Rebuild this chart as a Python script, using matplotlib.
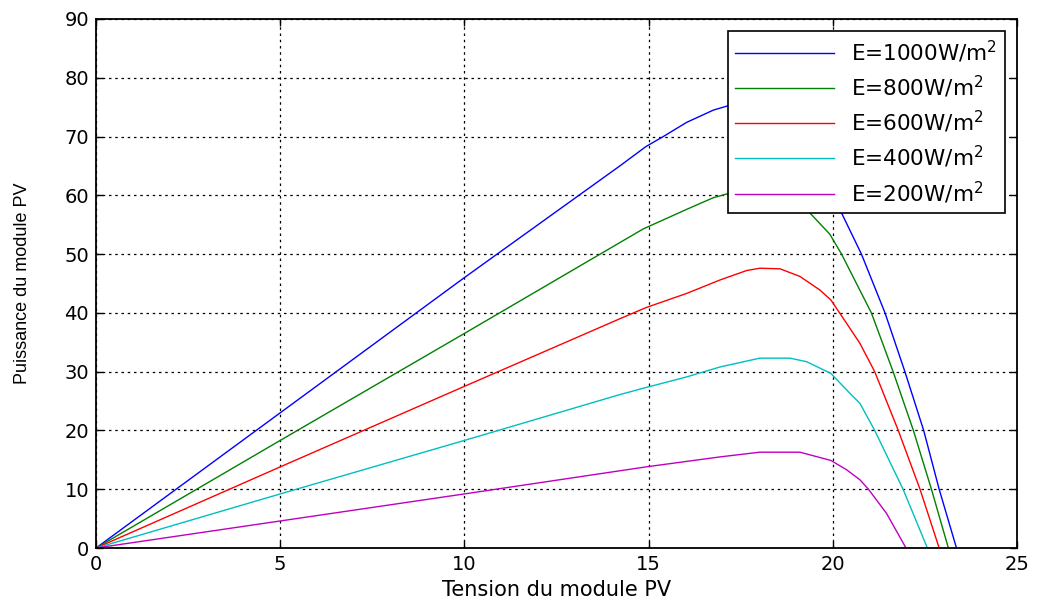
import matplotlib.pyplot as plt

plt.rcParams['font.family'] = ['DejaVu Sans']
plt.rcParams['mathtext.fontset'] = 'dejavusans'

# P-V curves of the module for several irradiance levels (V in volts, P in watts)
v_1000 = [0, 5, 10, 14.22, 14.93, 15.4, 16.03, 16.76, 17.3, 17.8, 18.3, 18.8, 19.3, 19.8, 20.24, 20.78, 21.42, 21.96, 22.47, 22.89, 23.36]
p_1000 = [0, 23, 46, 65.0, 68.3, 70.0, 72.4, 74.5, 75.5, 75.9, 75.5, 73.8, 70.5, 64.5, 57, 50, 40, 30, 20, 10, 0]

v_800 = [0, 5, 10, 14.86, 16.03, 16.76, 17.4, 18.0, 18.5, 19.0, 19.38, 19.92, 20.24, 21.05, 21.64, 22.19, 22.68, 23.14]
p_800 = [0, 18.3, 36.5, 54.3, 57.6, 59.6, 60.7, 61.0, 60.6, 59.2, 57.0, 53.4, 50, 40, 30, 20, 10, 0]

v_600 = [0, 5, 10, 14.22, 14.93, 16.03, 16.94, 17.66, 18.02, 18.57, 19.11, 19.65, 19.95, 20.38, 20.74, 21.14, 21.78, 22.37, 22.89]
p_600 = [0, 13.8, 27.5, 39.0, 40.9, 43.3, 45.6, 47.2, 47.6, 47.5, 46.2, 43.9, 42.2, 38.2, 34.8, 30, 20, 10, 0]

v_400 = [0, 5, 10, 14.22, 14.93, 16.03, 16.94, 18.02, 18.84, 19.29, 19.95, 20.47, 20.74, 21.14, 21.91, 22.57]
p_400 = [0, 9.2, 18.3, 26.1, 27.3, 29.1, 30.8, 32.3, 32.3, 31.7, 29.7, 26.3, 24.6, 20, 10, 0]

v_200 = [0, 5, 10, 14.93, 16.94, 18.02, 19.11, 19.95, 20.38, 20.74, 20.97, 21.46, 21.99]
p_200 = [0, 4.6, 9.2, 13.8, 15.5, 16.3, 16.3, 14.9, 13.3, 11.6, 10, 5.9, 0]

labels = [r'E=1000W/m$^2$', r'E=800W/m$^2$', r'E=600W/m$^2$', r'E=400W/m$^2$', r'E=200W/m$^2$']
colors = [(0, 0, 1), (0, 0.5, 0), (1, 0, 0), (0, 0.75, 0.75), (0.75, 0, 0.75)]

fig = plt.figure(figsize=(10.37, 6.05), dpi=100)
ax = fig.add_axes([0.0926, 0.0942, 0.888, 0.8744])

curves = [(v_1000, p_1000), (v_800, p_800), (v_600, p_600), (v_400, p_400), (v_200, p_200)]
for (v, p), lab, col in zip(curves, labels, colors):
    ax.plot(v, p, color=col, linewidth=1.0, label=lab)

ax.set_xlim(0, 25)
ax.set_ylim(0, 90)
ax.set_xticks(range(0, 26, 5))
ax.set_yticks(range(0, 91, 10))
ax.grid(True, color='black', linestyle=(0, (2, 3)), linewidth=0.9)
ax.tick_params(direction='in', length=5, top=True, right=True, labelsize=14, width=1, pad=5)
for s in ax.spines.values():
    s.set_linewidth(1.3)

ax.set_xlabel('Tension du module PV', fontsize=15, labelpad=4)
ax.set_ylabel('Puissance du module PV', fontsize=13, labelpad=24,
              family=['Liberation Sans Narrow', 'Liberation Sans', 'DejaVu Sans'])

leg = ax.legend(loc='upper right', fontsize=15.5, handlelength=4.6, labelspacing=0.42,
                fancybox=False, framealpha=1, edgecolor='black',
                borderaxespad=0.55, borderpad=0.35, handletextpad=0.8)
leg.get_frame().set_linewidth(1.2)

fig.savefig('out.png', dpi=100)
